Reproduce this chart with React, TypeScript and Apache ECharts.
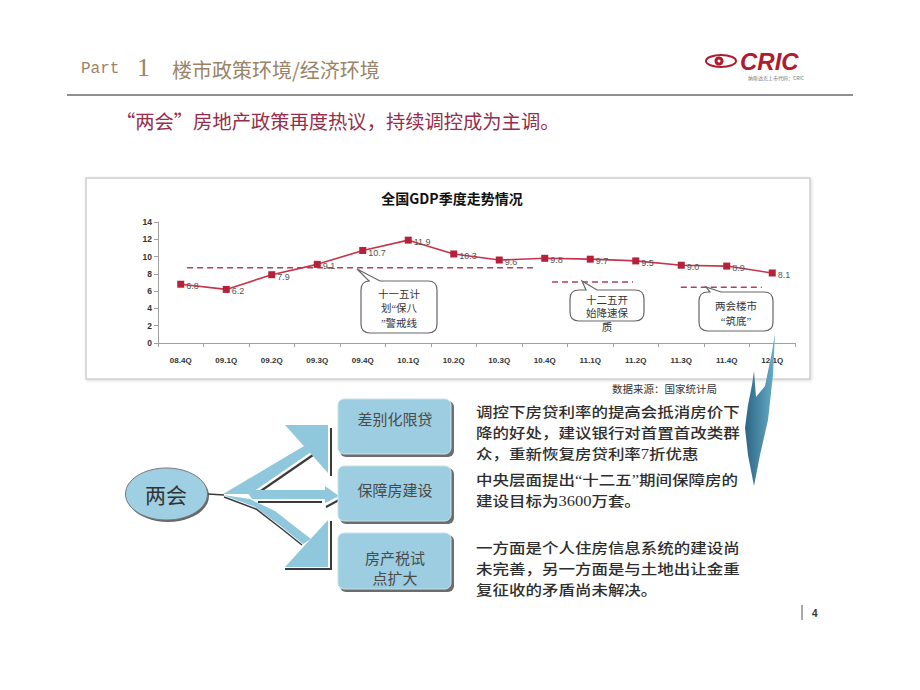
import React, { useEffect, useRef } from "react";
import * as echarts from "echarts";

const categories = ["08.4Q", "09.1Q", "09.2Q", "09.3Q", "09.4Q", "10.1Q", "10.2Q", "10.3Q", "10.4Q", "11.1Q", "11.2Q", "11.3Q", "11.4Q", "12.1Q"];
const gdp = [6.8, 6.2, 7.9, 9.1, 10.7, 11.9, 10.3, 9.6, 9.8, 9.7, 9.5, 9.0, 8.9, 8.1];
const yMin = 0;
const yMax = 14;
const yInterval = 2;
// reference lines: [xStart, xEnd] in category units, and level
const refLine1 = [[0.64, 8.7], [8.24, 8.7]];
const refLine2 = [[8.66, 7.05], [10.44, 7.05]];
const refLine3 = [[11.49, 6.45], [13.27, 6.45]];

const bubble1Lines = ["十一五计", "划“保八", "”警戒线"];
const bubble2Lines = ["十二五开", "始降速保", "质"];
const bubble3Lines = ["两会楼市", "“筑底”"];
const boxTexts = [["差别化限贷"], ["保障房建设"], ["房产税试", "点扩大"]];
const descTexts = [
  ["调控下房贷利率的提高会抵消房价下", "降的好处，建议银行对首置首改类群", "众，重新恢复房贷利率7折优惠"],
  ["中央层面提出“十二五”期间保障房的", "建设目标为3600万套。"],
  ["一方面是个人住房信息系统的建设尚", "未完善，另一方面是与土地出让金重", "复征收的矛盾尚未解决。"],
];

function bubblePath(x0: number, y0: number, x1: number, y1: number, r: number, tl: number, tr: number, ax: number, ay: number) {
  return `M${x0 + r} ${y0} L${tl} ${y0} L${ax} ${ay} L${tr} ${y0} L${x1 - r} ${y0} Q${x1} ${y0} ${x1} ${y0 + r} L${x1} ${y1 - r} Q${x1} ${y1} ${x1 - r} ${y1} L${x0 + r} ${y1} Q${x0} ${y1} ${x0} ${y1 - r} L${x0} ${y0 + r} Q${x0} ${y0} ${x0 + r} ${y0} Z`;
}

let registered = false;
function registerShapes() {
  if (registered) return;
  registered = true;
  echarts.graphic.registerShape("bubble1", echarts.graphic.extendPath(bubblePath(361, 281, 437, 333, 9, 369, 380, 357, 269), {}) as any);
  echarts.graphic.registerShape("bubble2", echarts.graphic.extendPath(bubblePath(570, 290, 644, 321, 9, 586, 597, 582, 281), {}) as any);
  echarts.graphic.registerShape("bubble3", echarts.graphic.extendPath(bubblePath(699, 292, 773, 331, 9, 710, 721, 706, 287), {}) as any);
}

const CJK = '"Noto Sans CJK SC", sans-serif';
const SERIF_CJK = '"Liberation Serif", "Noto Sans CJK SC", serif';

export default function App() {
  const ref = useRef<HTMLDivElement>(null);
  useEffect(() => {
    if (!ref.current) return;
    registerShapes();
    const chart = echarts.init(ref.current, undefined, { renderer: "svg" });

    const text = (t: string, x: number, y: number, size: number, font: string, fill: string, align = "left", z = 10, scaleY = 1) => ({
      type: "text",
      z,
      x,
      y,
      scaleY,
      style: { text: t, x: 0, y: 0, font: font.replace("SIZE", size + "px"), fill, align, verticalAlign: "middle", lineHeight: Math.round(size * 1.05) },
    });

    const graphics: any[] = [];
    // header
    graphics.push(text("Part", 81, 69, 16, 'SIZE "Liberation Mono"', "#9a8468"));
    graphics.push(text("1", 137, 67, 26, 'SIZE "Liberation Serif"', "#9a8468"));
    graphics.push(text("楼市政策环境/经济环境", 172, 69, 20, `SIZE ${CJK}`, "#9a8468"));
    graphics.push({ type: "line", shape: { x1: 67, y1: 95, x2: 853, y2: 95 }, style: { stroke: "#8f8f8f", lineWidth: 2 } });
    graphics.push(text("“两会”房地产政策再度热议，持续调控成为主调。", 116, 121, 19.3, `SIZE ${CJK}`, "#962d4d"));
    // logo
    graphics.push({ type: "ellipse", shape: { cx: 721, cy: 61, rx: 15, ry: 6 }, style: { fill: "none", stroke: "#b01c2e", lineWidth: 2 } });
    graphics.push({ type: "circle", shape: { cx: 719, cy: 61, r: 4.5 }, style: { fill: "#b01c2e" } });
    graphics.push({ type: "circle", shape: { cx: 719, cy: 61, r: 1.5 }, style: { fill: "#ffffff" } });
    graphics.push(text("CRIC", 740, 61, 24, 'italic bold SIZE "Liberation Sans"', "#b01c2e"));
    graphics.push(text("纳斯达克上市代码：CRIC", 748, 77, 5, `SIZE ${CJK}`, "#777"));

    // chart frame
    graphics.push({ type: "rect", z: 0, shape: { x: 86, y: 178, width: 724, height: 201 }, style: { fill: "#fff", stroke: "#cfcfcf", lineWidth: 1.5, shadowBlur: 3, shadowColor: "rgba(0,0,0,0.15)", shadowOffsetX: 1, shadowOffsetY: 1 } });
    graphics.push(text("全国GDP季度走势情况", 452, 198, 14, `bold SIZE ${CJK}`, "#111", "center"));

    // bubbles
    const bubbleStyle = { fill: "#fff", stroke: "#666", lineWidth: 1.2 };
    graphics.push({ type: "bubble1", z: 5, x: 0, y: 0, style: bubbleStyle });
    graphics.push({ type: "bubble2", z: 5, x: 0, y: 0, style: bubbleStyle });
    graphics.push({ type: "bubble3", z: 5, x: 0, y: 0, style: bubbleStyle });
    bubble1Lines.forEach((t, i) => graphics.push(text(t, 399, 294 + i * 14.5, 10.5, `SIZE ${SERIF_CJK}`, "#333", "center", 11)));
    bubble2Lines.forEach((t, i) => graphics.push(text(t, 607, 300 + i * 13.5, 10.5, `SIZE ${SERIF_CJK}`, "#333", "center", 11)));
    bubble3Lines.forEach((t, i) => graphics.push(text(t, 736, 306 + i * 15, 10.5, `SIZE ${SERIF_CJK}`, "#333", "center", 11)));

    // source
    graphics.push(text("数据来源：国家统计局", 612, 388, 10.5, `SIZE ${CJK}`, "#333"));

    // blade arrow
    graphics.push({
      type: "polygon",
      z: 20,
      shape: { points: [[775, 333], [773, 375], [768, 420], [760, 455], [754, 486], [748, 455], [745, 428], [748, 405], [752, 385], [754, 371], [756, 397], [765, 386], [772, 352]] },
      style: { fill: { type: "linear", x: 0, y: 0, x2: 1, y2: 0, colorStops: [{ offset: 0, color: "#2c6585" }, { offset: 1, color: "#6aaec9" }] } },
    });

    // diagram: ellipse
    graphics.push({ type: "ellipse", shape: { cx: 168, cy: 496, rx: 41, ry: 26 }, style: { fill: "#666" } });
    graphics.push({ type: "ellipse", shape: { cx: 166.5, cy: 494, rx: 41, ry: 26 }, style: { fill: "#9ecfe2", stroke: "#777", lineWidth: 1 } });
    graphics.push(text("两会", 166, 494, 21, `SIZE ${CJK}`, "#333", "center"));

    const lb = "#8fc7dc";
    const dk = "#3a3a3a";
    graphics.push({ type: "polyline", shape: { points: [[208, 494], [224, 495]] }, style: { stroke: dk, lineWidth: 1.5 } });
    // upper arm
    graphics.push({ type: "polygon", shape: { points: [[223, 494], [304, 446], [311, 452], [250, 494]] }, style: { fill: lb } });
    graphics.push({ type: "polyline", shape: { points: [[252, 497], [313, 455]] }, style: { stroke: dk, lineWidth: 2.2 } });
    graphics.push({ type: "polygon", shape: { points: [[285, 425], [328, 425], [328, 473]] }, style: { fill: lb } });
    graphics.push({ type: "polyline", shape: { points: [[331, 428], [331, 476]] }, style: { stroke: dk, lineWidth: 2 } });
    // middle arm
    graphics.push({ type: "polygon", shape: { points: [[246, 490], [325, 490], [325, 486], [339, 496], [325, 503], [325, 499], [252, 499]] }, style: { fill: lb } });
    graphics.push({ type: "polyline", shape: { points: [[258, 502], [322, 502]] }, style: { stroke: dk, lineWidth: 2 } });
    graphics.push({ type: "polyline", shape: { points: [[326, 507], [339, 500]] }, style: { stroke: dk, lineWidth: 2 } });
    // lower arm
    graphics.push({ type: "polygon", shape: { points: [[223, 495], [250, 499], [275, 511], [298, 529], [311, 539], [303, 544], [282, 527], [255, 507]] }, style: { fill: lb } });
    graphics.push({ type: "polyline", smooth: 0.3, shape: { points: [[224, 497], [256, 509], [282, 529], [302, 545]] }, style: { stroke: dk, lineWidth: 1.5 } });
    graphics.push({ type: "polygon", shape: { points: [[285, 567], [328, 520], [328, 567]] }, style: { fill: lb } });
    graphics.push({ type: "polyline", shape: { points: [[285, 569], [331, 569], [331, 521]] }, style: { stroke: dk, lineWidth: 2 } });

    // boxes
    const boxYs = [[399, 455], [466, 522], [533, 590]];
    boxYs.forEach(([y0, y1], i) => {
      graphics.push({ type: "rect", shape: { x: 340, y: y0 + 2, width: 114, height: y1 - y0, r: 6 }, style: { fill: "#6d6d6d" } });
      graphics.push({ type: "rect", shape: { x: 338, y: y0, width: 113, height: y1 - y0 - 1, r: 6 }, style: { fill: "#9dcde0", stroke: "#c6e3ee", lineWidth: 1 } });
      const lines = boxTexts[i];
      const cy = i === 2 ? 557 : y0 + 19 + (i === 1 ? 4 : 0);
      lines.forEach((t, j) => graphics.push(text(t, 395, cy + j * 20, 15, `SIZE ${CJK}`, "#4a4a4a", "center")));
    });

    // descriptions
    const descY = [412, 480, 548];
    descTexts.forEach((lines, i) => {
      lines.forEach((t, j) => graphics.push(text(t, 476, descY[i] + j * 21, 16.5, `500 SIZE ${SERIF_CJK}`, "#2e2e2e", "left", 10, 0.86)));
    });

    // page number
    graphics.push({ type: "line", shape: { x1: 802, y1: 605, x2: 802, y2: 620 }, style: { stroke: "#555", lineWidth: 1 } });
    graphics.push(text("4", 812, 613, 10, 'bold SIZE "Liberation Sans"', "#333"));

    const dashed = (data: number[][]) => ({
      type: "line",
      xAxisIndex: 1,
      data,
      symbol: "none",
      silent: true,
      z: 3,
      lineStyle: { color: "#b04058", width: 1.6, type: [6, 4] },
    });

    chart.setOption({
      animation: false,
      backgroundColor: "#ffffff",
      grid: { left: 158, right: 125, top: 222, bottom: 347, containLabel: false },
      xAxis: [
        {
          type: "category",
          data: categories,
          boundaryGap: true,
          axisLine: { lineStyle: { color: "#a0a0a0", width: 1 } },
          axisTick: { show: true, length: 4, lineStyle: { color: "#a0a0a0" } },
          axisLabel: { fontSize: 8, fontWeight: "bold", color: "#333", margin: 13, fontFamily: "Liberation Sans" },
        },
        { type: "value", min: 0, max: 14, show: false },
      ],
      yAxis: {
        type: "value",
        min: yMin,
        max: yMax,
        interval: yInterval,
        axisLine: { show: true, lineStyle: { color: "#a0a0a0" } },
        axisTick: { show: true, length: 4, lineStyle: { color: "#a0a0a0" } },
        splitLine: { show: false },
        axisLabel: { fontSize: 8.5, fontWeight: "bold", color: "#333", margin: 6, fontFamily: "Liberation Sans" },
      },
      series: [
        {
          type: "line",
          data: gdp,
          z: 4,
          symbol: "rect",
          symbolSize: 7,
          itemStyle: { color: "#b5203b" },
          lineStyle: { color: "#c8324a", width: 1.6 },
          label: {
            show: true,
            position: "right",
            distance: 2,
            offset: [0, 2],
            fontSize: 9,
            color: "#555",
            fontFamily: "Liberation Sans",
            formatter: (p: any) => Number(p.value).toFixed(1),
          },
        },
        dashed(refLine1),
        dashed(refLine2),
        dashed(refLine3),
      ],
      graphic: graphics,
    });
    return () => chart.dispose();
  }, []);
  return <div ref={ref} style={{ position: "absolute", left: 0, top: 0, width: 920, height: 690 }} />;
}
